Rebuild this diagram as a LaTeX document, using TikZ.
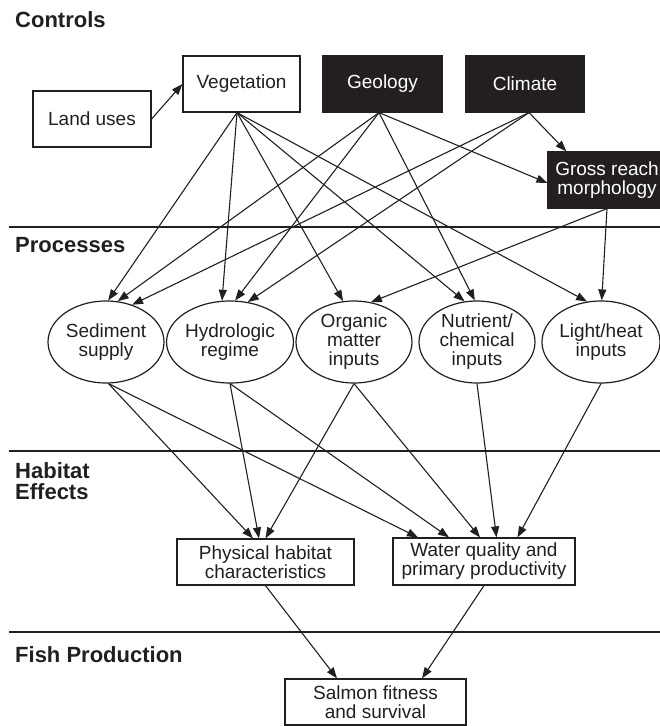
\documentclass[tikz,border=0pt]{standalone}
\usepackage{fontspec}
\setmainfont{Liberation Sans}
\usetikzlibrary{arrows.meta,shapes.geometric}
\definecolor{ink}{HTML}{231F20}
\tikzset{
  lbl/.style={font=\fontsize{19}{19}\selectfont, text=ink, align=center, inner sep=0pt},
  wbox/.style={lbl, draw=ink, line width=1.2pt, fill=white, rectangle},
  bbox/.style={lbl, draw=ink, line width=1.2pt, fill=ink, text=white, rectangle},
  proc/.style={lbl, draw=ink, line width=1.2pt, ellipse, minimum width=116pt, minimum height=82pt},
  head/.style={font=\fontsize{22}{21}\selectfont\bfseries, text=ink, anchor=base west, inner sep=0pt, align=left},
  arr/.style={draw=ink, line width=1.1pt, -{Triangle[length=11pt,width=8pt]}},
  sep/.style={draw=ink, line width=1.3pt}
}
\begin{document}
\begin{tikzpicture}[x=1pt,y=-1pt]
\useasboundingbox (0,0) rectangle (660,726);
% headings
\node[head] (hctl) at (15,27) {Controls};
\node[head] (hprc) at (15,252) {Processes};
\node[head] (hhab) at (15,478) {Habitat};
\node[head] (heff) at (15,499) {Effects};
\node[head] (hfish) at (15,662) {Fish Production};
% separators
\draw[sep] (9,227) -- (666,227);
\draw[sep] (9,451) -- (666,451);
\draw[sep] (9,632) -- (666,632);
% controls
\node[wbox, minimum width=118pt, minimum height=56pt] (land) at (92,119) {Land uses};
\node[wbox, minimum width=117pt, minimum height=56pt] (veg) at (241.5,84) {Vegetation};
\node[bbox, minimum width=119pt, minimum height=56pt] (geo) at (382.5,84) {Geology};
\node[bbox, minimum width=118pt, minimum height=56pt] (cli) at (525,84) {Climate};
\node[bbox, minimum width=118pt, minimum height=56pt] (gross) at (607,180) {Gross reach\\morphology};
% processes
\node[proc] (sed) at (106,342) {Sediment\\supply};
\node[proc] (hyd) at (230,342) {Hydrologic\\regime};
\node[proc] (org) at (354,342) {Organic\\matter\\inputs};
\node[proc] (nut) at (477,342) {Nutrient/\\chemical\\inputs};
\node[proc] (lig) at (601,342) {Light/heat\\inputs};
% habitat
\node[wbox, minimum width=177pt, minimum height=46pt] (phy) at (265.5,562) {Physical habitat\\characteristics};
\node[wbox, minimum width=182pt, minimum height=47pt] (wat) at (484,561.5) {Water quality and\\primary productivity};
% fish
\node[wbox, minimum width=181pt, minimum height=46pt] (sal) at (375.5,702) {Salmon fitness\\and survival};
% connectors
\draw[arr] (land.east) -- (veg.west);
\draw[arr] ([xshift=-4.5pt]veg.south) -- (sed.87);
\draw[arr] ([xshift=-4.5pt]veg.south) -- (hyd.101);
\draw[arr] ([xshift=-4.5pt]veg.south) -- (org.105);
\draw[arr] ([xshift=-4.5pt]veg.south) -- (nut.107);
\draw[arr] ([xshift=-4.5pt]veg.south) -- (lig.109);
\draw[arr] ([xshift=-3.5pt]geo.south) -- (sed.74);
\draw[arr] ([xshift=-3.5pt]geo.south) -- (hyd.83);
\draw[arr] ([xshift=-3.5pt]geo.south) -- (nut.93);
\draw[arr] ([xshift=-3.5pt]geo.south) -- ([yshift=-3pt]gross.west);
\draw[arr] ([xshift=4pt]cli.south) -- (sed.55);
\draw[arr] ([xshift=4pt]cli.south) -- (hyd.66);
\draw[arr] ([xshift=4pt]cli.south) -- ([xshift=19pt]gross.north west);
\draw[arr] (gross.south) -- (org.67.5);
\draw[arr] (gross.south) -- (lig.89);
\draw[arr] ([xshift=2.5pt]sed.south) -- ([xshift=-12.5pt]phy.north);
\draw[arr] ([xshift=2.5pt]sed.south) -- ([xshift=-66pt]wat.north);
\draw[arr] (hyd.south) -- ([xshift=-6.5pt]phy.north);
\draw[arr] (hyd.south) -- ([xshift=-35pt]wat.north);
\draw[arr] (org.south) -- (phy.north);
\draw[arr] (org.south) -- ([xshift=-4pt]wat.north);
\draw[arr] (nut.south) -- ([xshift=12.5pt]wat.north);
\draw[arr] (lig.south) -- ([xshift=33.5pt]wat.north);
\draw[arr] (phy.south) -- ([xshift=-38.5pt]sal.north);
\draw[arr] (wat.south) -- ([xshift=46.5pt]sal.north);
\end{tikzpicture}
\end{document}
